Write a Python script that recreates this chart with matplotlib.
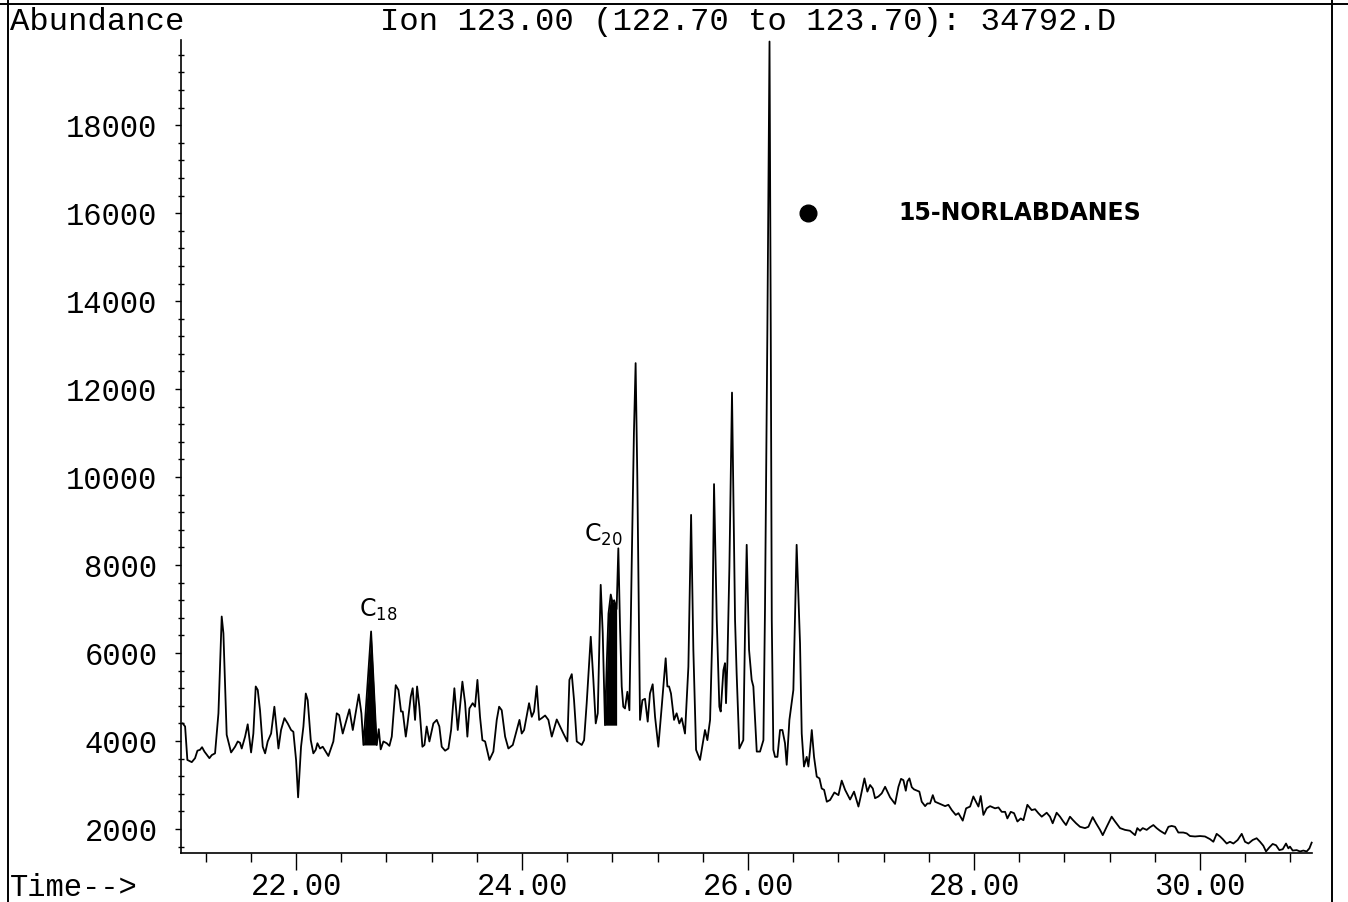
import numpy as np
import matplotlib
matplotlib.use('Agg')
from matplotlib import pyplot as plt
from matplotlib.ticker import MultipleLocator, FormatStrFormatter
from matplotlib.lines import Line2D

plt.rcParams['font.family'] = ['Liberation Mono', 'DejaVu Sans']

# ion 123 trace (time in min, abundance)
time_1 = [20.997, 21.018, 21.038, 21.077, 21.106, 21.127, 21.150, 21.168, 21.189, 21.233, 21.254, 21.283,
          21.313, 21.342, 21.357, 21.386, 21.401, 21.425, 21.460, 21.484, 21.504, 21.519, 21.549, 21.572,
          21.602, 21.622, 21.643, 21.661, 21.681, 21.705, 21.726, 21.749, 21.779, 21.808, 21.823, 21.844,
          21.867, 21.897, 21.926, 21.956, 21.976, 22.000, 22.018, 22.044, 22.065, 22.086, 22.103, 22.130,
          22.153, 22.174, 22.189, 22.212, 22.236, 22.286, 22.330, 22.360, 22.381, 22.413, 22.472, 22.502,
          22.555, 22.578, 22.596, 22.664, 22.714, 22.732, 22.749, 22.773, 22.802, 22.826, 22.847, 22.882,
          22.906, 22.929, 22.944, 22.971, 22.985, 23.015, 23.032, 23.053, 23.071, 23.091, 23.118, 23.136,
          23.156, 23.180, 23.215, 23.245, 23.268, 23.289, 23.319, 23.348, 23.372, 23.401, 23.431, 23.472,
          23.496, 23.516, 23.534, 23.563, 23.584, 23.605, 23.628, 23.649, 23.673, 23.711]
abund_1 = [4400, 4330, 3570, 3520, 3610, 3780, 3800, 3860, 3760, 3610, 3680, 3720,
           4630, 6830, 6450, 4140, 3990, 3740, 3870, 3990, 3960, 3830, 4100, 4380,
           3740, 4170, 5240, 5160, 4700, 3870, 3720, 3990, 4170, 4780, 4400, 3830,
           4250, 4520, 4400, 4250, 4210, 3570, 2720, 3870, 4330, 5080, 4930, 4020,
           3720, 3800, 3950, 3830, 3870, 3660, 3990, 4630, 4590, 4170, 4720, 4250,
           5060, 4630, 3910, 6490, 3910, 4270, 3810, 3990, 3950, 3890, 4100, 5270,
           5160, 4670, 4670, 4100, 4360, 5010, 5200, 4480, 5240, 4780, 3870, 3910,
           4330, 3990, 4400, 4480, 4330, 3870, 3780, 3830, 4250, 5200, 4250, 5350,
           4860, 4100, 4740, 4860, 4780, 5390, 4550, 4020, 3990, 3570]

time_2 = [23.746, 23.776, 23.797, 23.820, 23.850, 23.879, 23.918, 23.938, 23.977, 23.997, 24.018, 24.062,
          24.086, 24.106, 24.130, 24.151, 24.174, 24.204, 24.233, 24.263, 24.307, 24.336, 24.366, 24.401,
          24.419, 24.440, 24.460, 24.484, 24.528, 24.549, 24.572, 24.608, 24.631, 24.652, 24.670, 24.696,
          24.714]
abund_2 = [3760, 4480, 4780, 4700, 4100, 3830, 3910, 4100, 4480, 4170, 4250, 4860,
           4550, 4670, 5250, 4480, 4520, 4580, 4480, 4100, 4490, 4330, 4170, 3990,
           5390, 5520, 4930, 3990, 3910, 4020, 4860, 6370, 5390, 4400, 4630, 7550,
           6450]

time_3 = [24.734, 24.750, 24.765, 24.785, 24.800, 24.815, 24.837, 24.852, 24.867, 24.882, 24.896, 24.911,
          24.932, 24.950, 24.970, 24.990, 25.005, 25.020, 25.035, 25.044, 25.065, 25.088, 25.112, 25.132,
          25.156, 25.177, 25.206, 25.236, 25.271, 25.286, 25.301, 25.318, 25.345, 25.368, 25.392, 25.413,
          25.442, 25.472, 25.496, 25.516, 25.540, 25.575, 25.619, 25.640, 25.664, 25.684, 25.699, 25.723,
          25.746, 25.758, 25.782, 25.796, 25.805, 25.817, 25.835, 25.858, 25.885, 25.899, 25.923, 25.958,
          25.973, 25.988, 26.009, 26.032, 26.047, 26.077, 26.106, 26.136, 26.150, 26.171, 26.190, 26.201,
          26.210, 26.224, 26.239, 26.260, 26.283, 26.304, 26.327, 26.342, 26.366, 26.401, 26.430, 26.460,
          26.475, 26.495, 26.519, 26.534]
abund_3 = [4360, 5800, 6900, 7330, 7150, 7200, 7000, 8380, 6600, 5240, 4780, 4740,
           5120, 4700, 7960, 11000, 12590, 10000, 6500, 4480, 4930, 4960, 4440, 5080,
           5290, 4550, 3870, 4780, 5880, 5240, 5240, 5080, 4480, 4630, 4400, 4520,
           4170, 5690, 9140, 6070, 3800, 3570, 4250, 4020, 4480, 6450, 9840, 6750,
           4780, 4670, 5610, 5770, 4860, 5770, 7960, 11920, 6750, 5540, 3830, 4020,
           6450, 8460, 6070, 5390, 5240, 3760, 3760, 4020, 7000, 13340, 19900, 13340,
           6750, 3800, 3640, 3640, 4250, 4250, 3950, 3460, 4480, 5160, 8460, 6220,
           4170, 3420, 3640, 3420]

time_4 = [26.549, 26.564, 26.584, 26.608, 26.632, 26.652, 26.673, 26.697, 26.726, 26.764, 26.800, 26.829,
          26.859, 26.903, 26.938, 26.977, 26.997, 27.030, 27.056, 27.080, 27.104, 27.124, 27.154, 27.183,
          27.213, 27.257, 27.301, 27.331, 27.354, 27.375, 27.396, 27.410, 27.428, 27.449, 27.469, 27.516,
          27.537, 27.567, 27.587, 27.611, 27.635, 27.655, 27.699, 27.744, 27.773, 27.803, 27.838, 27.862,
          27.900, 27.930, 27.965, 27.994, 28.009, 28.039, 28.059, 28.083, 28.112, 28.142, 28.186, 28.216,
          28.245, 28.275, 28.295, 28.325, 28.354, 28.384, 28.413, 28.437, 28.472]
abund_4 = [3800, 4250, 3640, 3190, 3150, 2920, 2890, 2620, 2660, 2830, 2770, 3100,
           2890, 2670, 2850, 2510, 2740, 3150, 2850, 3000, 2920, 2700, 2740, 2810,
           2960, 2720, 2570, 2960, 3140, 3110, 2870, 3080, 3150, 2950, 2900, 2850,
           2620, 2520, 2580, 2580, 2770, 2620, 2570, 2520, 2550, 2430, 2320, 2360,
           2190, 2470, 2510, 2740, 2660, 2510, 2750, 2320, 2470, 2520, 2470, 2490,
           2390, 2390, 2240, 2390, 2360, 2170, 2240, 2200, 2550]

time_5 = [28.510, 28.540, 28.569, 28.599, 28.643, 28.672, 28.696, 28.731, 28.761, 28.790, 28.814, 28.849,
          28.873, 28.903, 28.938, 28.982, 29.012, 29.050, 29.080, 29.115, 29.139, 29.174, 29.218, 29.248,
          29.292, 29.336, 29.380, 29.425, 29.445, 29.469, 29.493, 29.528, 29.557, 29.587, 29.616, 29.646,
          29.690, 29.720, 29.749, 29.779, 29.808, 29.852, 29.882, 29.911, 29.956, 30.000, 30.044, 30.088,
          30.118, 30.147, 30.177, 30.201, 30.236, 30.265, 30.295, 30.333, 30.369, 30.398, 30.428, 30.466,
          30.501, 30.531, 30.560, 30.584, 30.613, 30.643, 30.673, 30.702, 30.732, 30.761, 30.782, 30.796,
          30.820, 30.855, 30.885, 30.914, 30.944, 30.968, 30.988]
abund_5 = [2430, 2450, 2360, 2280, 2370, 2280, 2130, 2370, 2280, 2170, 2090, 2280,
           2210, 2130, 2050, 2020, 2050, 2270, 2130, 1980, 1860, 2050, 2280, 2170,
           2020, 1980, 1960, 1860, 2020, 1960, 2020, 1980, 2040, 2090, 2020, 1960,
           1890, 2050, 2070, 2050, 1920, 1920, 1900, 1840, 1830, 1840, 1830, 1770,
           1710, 1890, 1830, 1770, 1670, 1710, 1670, 1750, 1890, 1710, 1670, 1750,
           1790, 1710, 1620, 1490, 1580, 1660, 1630, 1520, 1540, 1670, 1560, 1600,
           1510, 1520, 1490, 1510, 1490, 1560, 1690]

# shaded (integrated) peaks: start, end, baseline
c18_peak = (22.596, 22.714, 3910)
c20_peak = (24.734, 24.837, 4360)

x_ticks = [22, 24, 26, 28, 30]
y_ticks = [2000, 4000, 6000, 8000, 10000, 12000, 14000, 16000, 18000]

t = np.array(time_1 + time_2 + time_3 + time_4 + time_5)
a = np.array(abund_1 + abund_2 + abund_3 + abund_4 + abund_5)

fig = plt.figure(figsize=(13.48, 9.02), dpi=100)
ax = fig.add_axes([0.1343, 0.0543, 0.8390, 0.9013])

ax.plot(t, a, color='black', lw=1.3, clip_on=False)
for start, end, base in (c18_peak, c20_peak):
    m = (t >= start) & (t <= end)
    ax.fill_between(t, base, a, where=m, color='black', lw=0)

ax.set_xlim(20.982, 30.991)
ax.set_ylim(1454, 19934)
ax.set_xticks(x_ticks)
ax.set_yticks(y_ticks)
ax.xaxis.set_major_formatter(FormatStrFormatter('%.2f'))
ax.yaxis.set_major_formatter(FormatStrFormatter('%d'))
ax.xaxis.set_minor_locator(MultipleLocator(0.4))
ax.yaxis.set_minor_locator(MultipleLocator(400))

ax.spines['top'].set_visible(False)
ax.spines['right'].set_visible(False)
ax.spines['left'].set_linewidth(1.2)
ax.spines['bottom'].set_linewidth(1.2)
ax.tick_params(axis='y', which='major', direction='out', length=4, width=1, pad=13, labelsize=22)
ax.tick_params(axis='y', which='minor', direction='inout', length=5, width=1)
ax.tick_params(axis='x', which='major', direction='out', length=12, width=1, pad=2, labelsize=22)
ax.tick_params(axis='x', which='minor', direction='out', length=6.5, width=1)

# peak labels (hand written on the print)
ax.text(22.726, 6978, 'C$_{18}$', fontsize=17, family='DejaVu Sans', ha='center', va='center')
ax.text(24.717, 8682, 'C$_{20}$', fontsize=17, family='DejaVu Sans', ha='center', va='center')

ax.plot([26.53], [16000], 'o', color='black', ms=12)
ax.text(27.33, 16000, '15-NORLABDANES', fontsize=17, family='DejaVu Sans',
        fontweight='bold', ha='left', va='center')

fig.text(0.0074, 0.976, 'Abundance', fontsize=23.2, ha='left', va='center')
fig.text(0.2819, 0.976, 'Ion 123.00 (122.70 to 123.70): 34792.D', fontsize=23.2, ha='left', va='center')
fig.text(0.0074, 0.0155, 'Time-->', fontsize=22, ha='left', va='center')

# page frame of the printout
fig.add_artist(Line2D([0.0056, 0.0056], [0, 1], color='black', lw=1.4))
fig.add_artist(Line2D([0.9881, 0.9881], [0, 1], color='black', lw=1.4))
fig.add_artist(Line2D([0, 1], [0.9961, 0.9961], color='black', lw=1.4))

fig.savefig('out.png', dpi=100)
